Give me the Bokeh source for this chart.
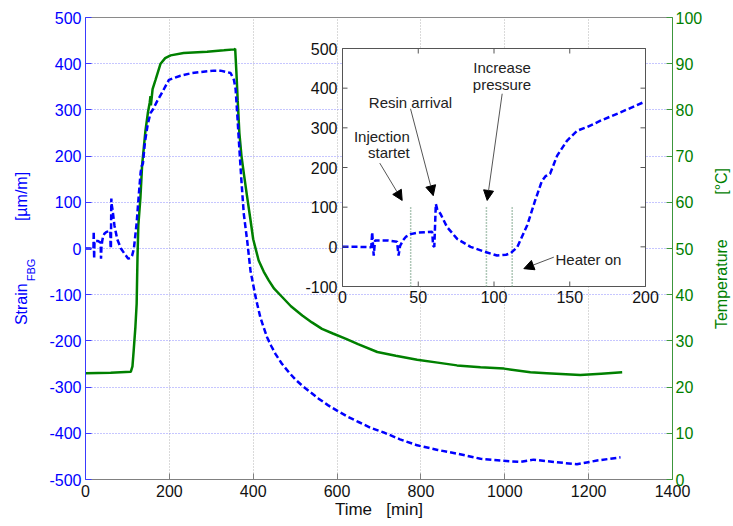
import math
from bokeh.plotting import figure
from bokeh.models import Range1d, LinearAxis, Label, Arrow, NormalHead, FixedTicker, Title
from bokeh.embed import file_html
from bokeh.resources import INLINE
from bokeh.core.properties import value

# ---------------- data ----------------
strain_time = [0, 10, 19.0, 19.6, 20.6, 21.5, 30, 36, 37.0, 38.0, 40, 42, 45, 50, 55, 59.2,
               59.8, 60.6, 61.6, 62.5, 64.7, 69, 75.7, 84.5, 94.4, 102, 108, 111, 115.3, 122,
               127, 131.5, 134, 137, 141.7, 148.3, 155, 161.5, 170.3, 183.5, 199, 226.6, 250,
               274, 306, 322, 346, 354, 358, 362, 366, 372, 377.5, 385.6, 393.5, 405, 410, 417,
               425, 433, 443, 453, 468, 485, 500, 517, 535, 556, 578, 600, 625, 650, 680, 711,
               750, 791, 840, 886, 942, 990, 1037, 1069, 1117, 1172, 1220, 1276]
strain = [0, 0, -1, 37, -22, 16, 16, 13, -22, 2, 17, 26, 32, 36, 37, 38,
          3, 0, 108, 95, 83, 50, 20, 0, -13, -22, -20, -16, -1, 55,
          115, 165, 178, 184, 230, 268, 293, 302, 318, 339, 365, 374, 379,
          382, 385, 385, 380, 365, 345, 290, 230, 145, 75, 17, -48, -102, -122, -149,
          -171, -192, -211, -228, -249, -268, -283, -297, -310, -325, -339, -351, -364, -375, -388, -398,
          -413, -426, -436, -444, -455, -459, -462, -457, -462, -467, -459, -452]

temp_time = [0, 60, 108, 112, 115, 119, 122, 124, 126, 131, 135, 143, 149, 153, 155, 156,
             160, 167, 179, 190, 203, 234, 290, 330, 355, 357, 360, 363, 367, 372, 378, 385,
             393, 400, 413, 425, 437, 450, 469, 490, 517, 540, 564, 590, 620, 650, 696, 740,
             791, 840, 886, 942, 998, 1061, 1100, 1180, 1230, 1280]
temperature = [23.0, 23.1, 23.3, 24.5, 28, 33, 38, 48, 55, 61, 68, 75.5, 79.5, 81.5, 83, 81,
               84.5, 86.5, 90, 91.2, 91.8, 92.3, 92.6, 92.9, 93.1, 93.2, 88, 82, 75, 70, 66, 61.5,
               56.5, 52, 47.4, 45.0, 43.1, 41.3, 39.5, 37.5, 35.5, 34.0, 32.6, 31.6, 30.5, 29.3, 27.6,
               26.8, 25.9, 25.3, 24.7, 24.3, 24.0, 23.2, 23.0, 22.6, 22.9, 23.2]

event_times = [45, 95, 112]

x_ticks = [0, 200, 400, 600, 800, 1000, 1200, 1400]
strain_ticks = [-500, -400, -300, -200, -100, 0, 100, 200, 300, 400, 500]
temp_ticks = [0, 10, 20, 30, 40, 50, 60, 70, 80, 90, 100]
inset_x_ticks = [0, 50, 100, 150, 200]
inset_y_ticks = [-100, 0, 100, 200, 300, 400, 500]

# ---------------- styling / layout ----------------
FONT = "Liberation Sans"
BLUE = "#0000ff"
GREEN = "#008000"
NB = "\u00a0"

W, H = 733, 526
FL, FT, FW, FH = 85, 17, 587, 462          # frame offset / size inside the figure
# inset box in frame-pixel coordinates
IN_L, IN_R, IN_T, IN_B = 257, 560, 31, 269

X0, X1 = inset_x_ticks[0], inset_x_ticks[-1]
Y0, Y1 = inset_y_ticks[0], inset_y_ticks[-1]
sx = (X1 - X0) / (IN_R - IN_L)
sy = (Y1 - Y0) / (IN_B - IN_T)
ix_start = X0 - IN_L * sx
ix_end = ix_start + FW * sx
iy_start = Y0 - (FH - IN_B) * sy
iy_end = iy_start + FH * sy

p = figure(width=W, height=H, output_backend="svg", toolbar_location=None,
           x_range=Range1d(x_ticks[0], x_ticks[-1]),
           y_range=Range1d(strain_ticks[0], strain_ticks[-1]),
           min_border_left=FL, min_border_top=FT,
           min_border_right=W - FL - FW, min_border_bottom=H - FT - FH)
p.extra_y_ranges = {"temp": Range1d(temp_ticks[0], temp_ticks[-1]),
                    "iy": Range1d(iy_start, iy_end)}
p.extra_x_ranges = {"ix": Range1d(ix_start, ix_end)}

p.outline_line_color = "#8a8a8a"
p.background_fill_color = "white"
p.border_fill_color = "white"

def style_axis(ax, color, line_color, standoff):
    ax.major_label_text_font = FONT
    ax.major_label_text_font_size = "16px"
    ax.major_label_text_color = color
    ax.axis_line_color = line_color
    ax.major_tick_line_color = line_color
    ax.major_tick_in = 6
    ax.major_tick_out = 0
    ax.minor_tick_line_color = None
    ax.major_label_standoff = standoff
    ax.axis_label_text_font = FONT
    ax.axis_label_text_font_style = "normal"
    ax.axis_label_text_color = color

xa = p.xaxis[0]
ya = p.yaxis[0]
xa.ticker = FixedTicker(ticks=x_ticks)
ya.ticker = FixedTicker(ticks=strain_ticks)
style_axis(xa, "#111111", "#808080", 5)
style_axis(ya, BLUE, "#3a3aff", 4)
ya.major_label_overrides = {v: str(v) for v in strain_ticks if v < 0}

xa.axis_label = "Time" + NB * 3 + "[min]"
xa.axis_label_text_font_size = "17px"
xa.axis_label_standoff = 0

# subscript of the strain label sits in the axis-label slot
ya.axis_label = "FBG" + NB * 14
ya.axis_label_text_font_size = "11px"
ya.axis_label_standoff = 9

raxis = LinearAxis(y_range_name="temp", ticker=FixedTicker(ticks=temp_ticks))
style_axis(raxis, GREEN, "#3c963c", 3)
p.add_layout(raxis, "right")

p.add_layout(Title(text="Strain" + NB * 14 + "[µm/m]", align="center", vertical_align="bottom",
                   standoff=-14, text_font=FONT, text_font_size="16px",
                   text_font_style="normal", text_color=BLUE), "left")

# temperature label in its own side slot, reading upwards
p.add_layout(Label(x=16, y=FH / 2, x_units="screen", y_units="screen",
                   text="Temperature" + NB * 10 + "[°C]", angle=math.pi / 2,
                   text_align="center", text_baseline="middle", text_font=FONT,
                   text_font_size="16px", text_color=GREEN), "right")

p.xgrid.grid_line_color = "#b4b4b4"
p.xgrid.grid_line_dash = "1 2"
p.ygrid.grid_line_color = "#8c8cff"
p.ygrid.grid_line_dash = "1 2"

# main curves
p.line(temp_time, temperature, color=GREEN, line_width=2.5, y_range_name="temp")
p.line(strain_time, strain, color=BLUE, line_width=2.5, line_dash="6 3")

# ---------------- inset ----------------
ins = dict(x_range_name="ix", y_range_name="iy")
p.quad(left=[X0], right=[X1], bottom=[Y0], top=[Y1], fill_color="white",
       line_color="#555555", line_width=1, **ins)
p.segment(x0=event_times, y0=[Y0] * len(event_times), x1=event_times,
          y1=[inset_y_ticks[2]] * len(event_times),
          line_color="#5f8f70", line_width=1.5, line_dash="1 2", **ins)
it = [t for t in strain_time if t <= X1]
iv = [v for t, v in zip(strain_time, strain) if t <= X1]
p.line(it, iv, color=BLUE, line_width=2.5, line_dash="6 3", **ins)

tick = dict(length=5, length_units="screen", line_color="#555555", line_width=1, **ins)
p.ray(x=inset_x_ticks, y=[Y0] * 5, angle=90, angle_units="deg", **tick)
p.ray(x=inset_x_ticks, y=[Y1] * 5, angle=-90, angle_units="deg", **tick)
p.ray(x=[X0] * 7, y=inset_y_ticks, angle=0, angle_units="deg", **tick)
p.ray(x=[X1] * 7, y=inset_y_ticks, angle=180, angle_units="deg", **tick)

p.text(x=inset_x_ticks, y=[Y0] * 5, text=[str(v) for v in inset_x_ticks],
       text_align="center", text_baseline="top", y_offset=4,
       text_font=value(FONT), text_font_size="16px", text_color="#111111", **ins)
p.text(x=[X0] * 7, y=inset_y_ticks, text=[str(v) for v in inset_y_ticks],
       text_align="right", text_baseline="middle", x_offset=-5,
       text_font=value(FONT), text_font_size="16px", text_color="#111111", **ins)

ann = dict(text_font=FONT, text_font_size="15px", text_color="#222222",
           text_baseline="middle", **ins)
p.add_layout(Label(x=44.4, y=278, text="Injection", text_align="right", **ann))
p.add_layout(Label(x=44.4, y=237, text="startet", text_align="right", **ann))
p.add_layout(Label(x=44.9, y=365, text="Resin arrival", text_align="center", **ann))
p.add_layout(Label(x=105.3, y=451, text="Increase", text_align="center", **ann))
p.add_layout(Label(x=105.3, y=409, text="pressure", text_align="center", **ann))
p.add_layout(Label(x=140.6, y=-32, text="Heater on", text_align="left", **ann))

def arrow(x0, y0, x1, y1):
    p.add_layout(Arrow(end=NormalHead(size=10, fill_color="black", line_color="black"),
                       x_start=x0, y_start=y0, x_end=x1, y_end=y1,
                       line_color="#555555", line_width=1, **ins))

arrow(24.6, 211, 39.4, 117)
arrow(44.9, 348, 59.9, 129)
arrow(105.4, 386, 95.5, 117)
arrow(139.5, -26, 119.7, -55)

open("out.html", "w").write(file_html(p, INLINE))
